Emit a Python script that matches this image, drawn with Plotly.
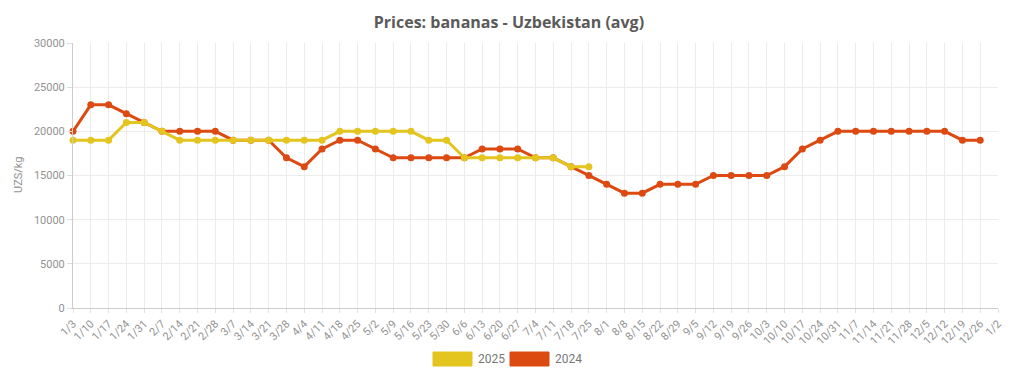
import plotly.graph_objects as go

categories = ["1/3", "1/10", "1/17", "1/24", "1/31", "2/7", "2/14", "2/21", "2/28",
              "3/7", "3/14", "3/21", "3/28", "4/4", "4/11", "4/18", "4/25", "5/2",
              "5/9", "5/16", "5/23", "5/30", "6/6", "6/13", "6/20", "6/27", "7/4",
              "7/11", "7/18", "7/25", "8/1", "8/8", "8/15", "8/22", "8/29", "9/5",
              "9/12", "9/19", "9/26", "10/3", "10/10", "10/17", "10/24", "10/31",
              "11/7", "11/14", "11/21", "11/28", "12/5", "12/12", "12/19", "12/26", "1/2"]

prices_2025 = [19000, 19000, 19000, 21000, 21000, 20000, 19000, 19000, 19000,
               19000, 19000, 19000, 19000, 19000, 19000, 20000, 20000, 20000,
               20000, 20000, 19000, 19000, 17000, 17000, 17000, 17000, 17000,
               17000, 16000, 16000]

prices_2024 = [20000, 23000, 23000, 22000, 21000, 20000, 20000, 20000, 20000,
               19000, 19000, 19000, 17000, 16000, 18000, 19000, 19000, 18000,
               17000, 17000, 17000, 17000, 17000, 18000, 18000, 18000, 17000,
               17000, 16000, 15000, 14000, 13000, 13000, 14000, 14000, 14000,
               15000, 15000, 15000, 15000, 16000, 18000, 19000, 20000,
               20000, 20000, 20000, 20000, 20000, 20000, 19000, 19000, None]

y_ticks = [0, 5000, 10000, 15000, 20000, 25000, 30000]

RED = "#DC4A12"
YELLOW = "#E4C41E"
TICK_COLOR = "#929292"

fig = go.Figure()
fig.add_trace(go.Scatter(
    x=categories[:len(prices_2024)], y=prices_2024, name="2024", mode="lines+markers",
    line=dict(color=RED, width=3), marker=dict(color=RED, size=7),
    showlegend=False, cliponaxis=False))
fig.add_trace(go.Scatter(
    x=categories[:len(prices_2025)], y=prices_2025, name="2025", mode="lines+markers",
    line=dict(color=YELLOW, width=3), marker=dict(color=YELLOW, size=7),
    showlegend=False, cliponaxis=False))

fig.update_layout(
    width=1024, height=379,
    margin=dict(l=73, r=26, t=43, b=71),
    paper_bgcolor="white", plot_bgcolor="white",
    font=dict(family="Roboto", size=11, color=TICK_COLOR),
    title=dict(text="<b>Prices: bananas - Uzbekistan (avg)</b>",
               x=0.497, xanchor="center", y=1 - 22 / 379, yanchor="middle",
               font=dict(family="Open Sans", size=16, color="#5a5a5a")),
    xaxis=dict(type="category", categoryorder="array", categoryarray=categories,
               range=[0, len(categories) - 1],
               tickmode="array", tickvals=categories, ticktext=categories,
               tickangle=-45, showgrid=True, gridcolor="#ececec", gridwidth=1,
               showline=True, linecolor="#cccccc", linewidth=1,
               ticks="outside", ticklen=4, tickcolor="#e0e0e0",
               tickfont=dict(family="Roboto", size=11, color=TICK_COLOR),
               zeroline=False, fixedrange=True, automargin=False),
    yaxis=dict(range=[0, 30000], tickmode="array", tickvals=y_ticks,
               ticktext=[str(v) for v in y_ticks],
               showgrid=True, gridcolor="#ececec", gridwidth=1,
               showline=True, linecolor="#cccccc", linewidth=1,
               ticks="outside", ticklen=5, tickcolor="#dddddd",
               tickfont=dict(family="Roboto", size=11, color=TICK_COLOR),
               zeroline=False, fixedrange=True, automargin=False),
)

# y axis title
fig.add_annotation(text="UZS/kg", xref="paper", yref="paper",
                   x=(18 - 73) / 925, y=(308 - 175) / 265, textangle=-90,
                   showarrow=False, font=dict(family="Roboto", size=11, color=TICK_COLOR),
                   xanchor="center", yanchor="middle")

# manual legend (wide colour boxes as in reference)
legend_items = [("2025", YELLOW, 433), ("2024", RED, 510)]
for label, color, px in legend_items:
    fig.add_shape(type="rect", xref="paper", yref="paper",
                  x0=(px - 73) / 925, x1=(px + 39 - 73) / 925,
                  y0=(308 - 352) / 265, y1=(308 - 366) / 265,
                  fillcolor=color, line=dict(color=color, width=1))
    fig.add_annotation(text=label, xref="paper", yref="paper",
                       x=(px + 43 - 73) / 925, y=(308 - 359) / 265,
                       xanchor="left", yanchor="middle", showarrow=False,
                       font=dict(family="Roboto", size=12, color="#777777"))

fig.write_html("out.html", config={"displayModeBar": False},
               post_script="document.body.style.margin='0';document.body.style.overflow='hidden';")
